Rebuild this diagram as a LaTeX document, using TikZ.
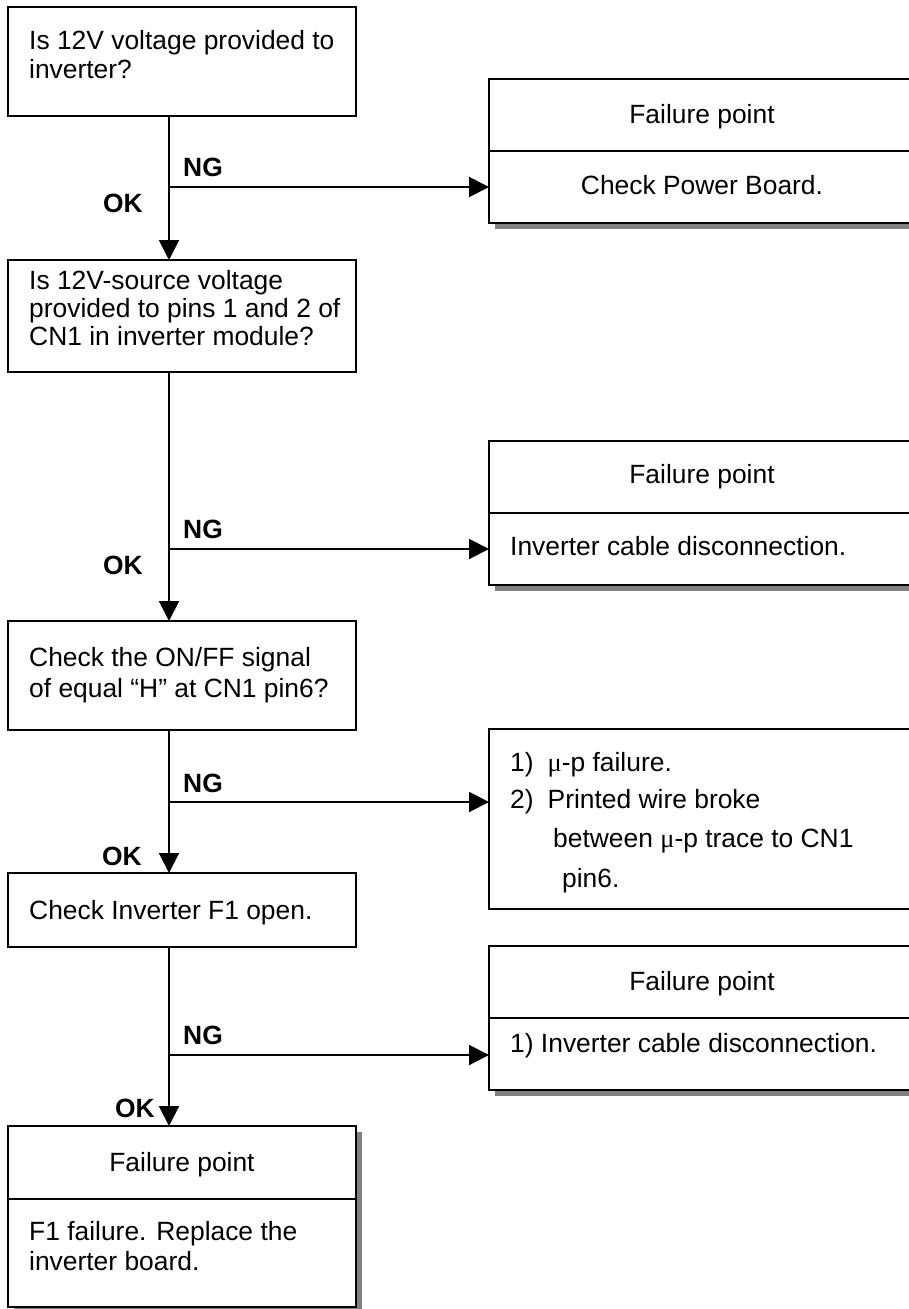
\documentclass[tikz,border=0pt]{standalone}
\usepackage{fontspec}
\setmainfont{Liberation Sans}
\newfontfamily\greekfont{Liberation Serif}
\usetikzlibrary{arrows.meta,shadows}
\definecolor{shade}{RGB}{128,128,128}
\begin{document}
\begin{tikzpicture}[x=1pt,y=-1pt,
  box/.style={draw, line width=2pt, fill=white, inner sep=0pt, outer sep=0pt, anchor=north west},
  shadowed/.style={drop shadow={shadow xshift=6pt, shadow yshift=-6pt, fill=shade, opacity=1}},
  leftbox/.style={box, minimum width=348pt},
  rightbox/.style={box, minimum width=426pt},
  txt/.style={inner sep=0pt, anchor=base west, font=\fontsize{26.4}{29}\selectfont},
  ctxt/.style={txt, anchor=base},
  tag/.style={inner sep=0pt, anchor=base west, font=\fontsize{26.4}{29}\selectfont\bfseries},
  flow/.style={line width=2pt, -{Triangle[length=20pt,width=20pt]}},
  divider/.style={line width=2pt}]
\useasboundingbox (0,0) rectangle (909,1309);
\clip (0,0) rectangle (909,1309);

% question boxes on the left
\node[leftbox, minimum height=109pt] (b1) at (8,7) {};
\node[leftbox, minimum height=112pt] (b2) at (8,260) {};
\node[leftbox, minimum height=109pt] (b3) at (8,621) {};
\node[leftbox, minimum height=74pt]  (b4) at (8,873) {};
\node[leftbox, shadowed, minimum height=181pt] (b5) at (8,1126) {};

% failure boxes on the right
\node[rightbox, shadowed, minimum height=144pt] (fp1) at (489,79) {};
\node[rightbox, shadowed, minimum height=144pt] (fp2) at (489,441) {};
\node[rightbox, minimum height=180pt] (mp) at (489,729) {};
\node[rightbox, shadowed, minimum height=144pt] (fp4) at (489,946) {};

% header dividers
\coordinate (d1) at (0,151);
\coordinate (d2) at (0,513);
\coordinate (d4) at (0,1018);
\coordinate (d5) at (0,1199);
\draw[divider] (fp1.west |- d1) -- (fp1.east |- d1);
\draw[divider] (fp2.west |- d2) -- (fp2.east |- d2);
\draw[divider] (fp4.west |- d4) -- (fp4.east |- d4);
\draw[divider] (b5.west |- d5) -- (b5.east |- d5);

% box texts
\node[txt] (t1a) at (29,49) {Is 12V voltage provided to};
\node[txt] (t1b) at (29,78) {inverter?};
\node[txt] (t2a) at (29,289) {Is 12V-source voltage};
\node[txt] (t2b) at (29,317) {provided to pins 1 and 2 of};
\node[txt] (t2c) at (29,345) {CN1 in inverter module?};
\node[txt] (t3a) at (29,666) {Check the ON/FF signal};
\node[txt] (t3b) at (29,697) {of equal “H” at CN1 pin6?};
\node[txt] (t4a) at (29,919) {Check Inverter F1 open.};
\node[ctxt] (t5h) at (182,1171) {Failure point};
\node[txt] (t5a) at (29,1240) {F1 failure. Replace the};
\node[txt] (t5b) at (29,1270) {inverter board.};

\node[ctxt] (f1h) at (702,123) {Failure point};
\node[ctxt] (f1a) at (702,194) {Check Power Board.};
\node[ctxt] (f2h) at (702,483) {Failure point};
\node[txt] (f2a) at (510,555) {Inverter cable disconnection.};
\node[txt] (m1) at (510,771) {1)\hspace{14pt}{\greekfont μ}-p failure.};
\node[txt] (m2) at (510,808) {2)\hspace{14pt}Printed wire broke};
\node[txt] (m3) at (553,847) {between {\greekfont μ}-p trace to CN1};
\node[txt] (m4) at (562,887) {pin6.};
\node[ctxt] (f4h) at (702,990) {Failure point};
\node[txt] (f4a) at (510,1052) {1) Inverter cable disconnection.};

% main flow down the left column
\coordinate (spine) at (169,0);
\draw[flow] (spine |- b1.south) -- (spine |- b2.north);
\draw[flow] (spine |- b2.south) -- (spine |- b3.north);
\draw[flow] (spine |- b3.south) -- (spine |- b4.north);
\draw[flow] (spine |- b4.south) -- (spine |- b5.north);

% NG branches
\coordinate (ng1) at (169,187);
\coordinate (ng2) at (169,549);
\coordinate (ng3) at (169,802);
\coordinate (ng4) at (169,1055);
\draw[flow] (ng1) -- (ng1 -| fp1.west);
\draw[flow] (ng2) -- (ng2 -| fp2.west);
\draw[flow] (ng3) -- (ng3 -| mp.west);
\draw[flow] (ng4) -- (ng4 -| fp4.west);

% branch labels
\node[tag] (ng1l) at (183,176) {NG};
\node[tag] (ng2l) at (183,538) {NG};
\node[tag] (ng3l) at (183,792) {NG};
\node[tag] (ng4l) at (183,1044) {NG};
\node[tag] (ok1l) at (103,212) {OK};
\node[tag] (ok2l) at (103,574) {OK};
\node[tag] (ok3l) at (102,865) {OK};
\node[tag] (ok4l) at (115,1117) {OK};
\end{tikzpicture}
\end{document}
